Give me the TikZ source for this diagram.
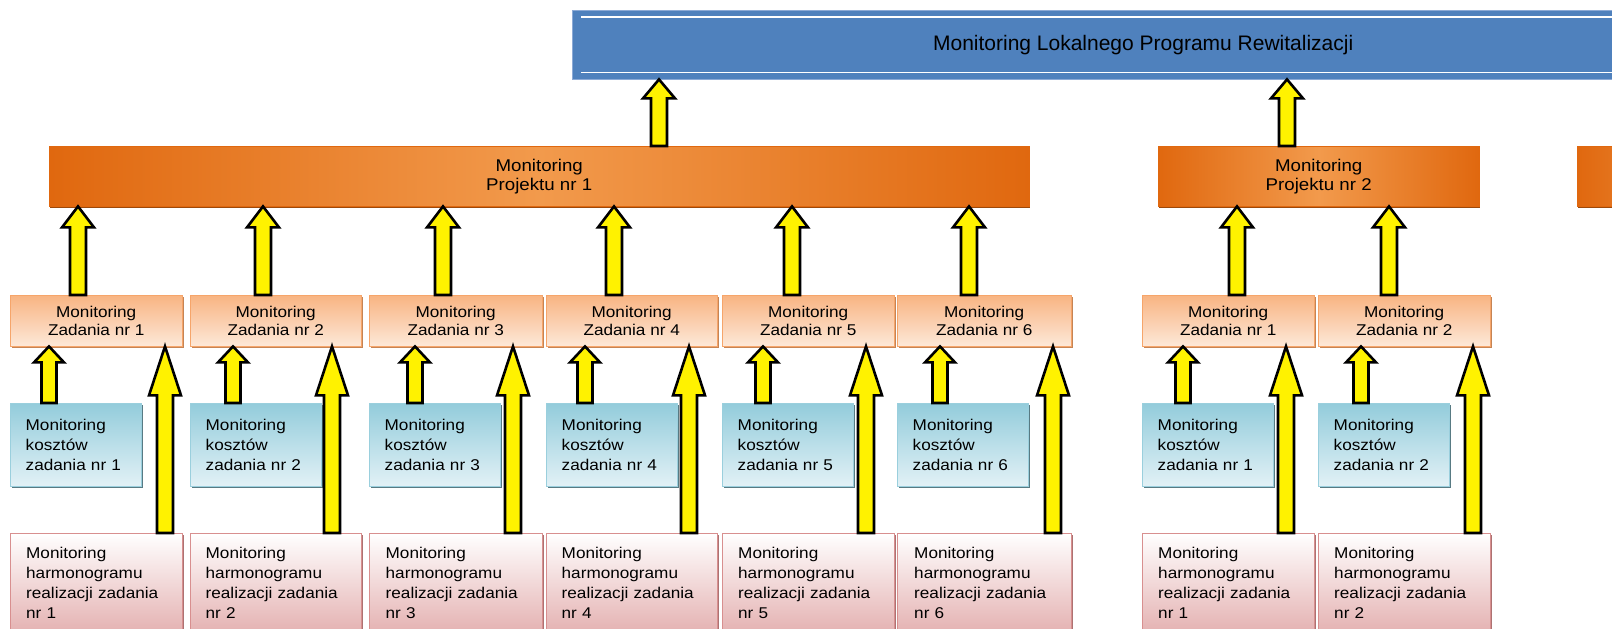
\documentclass[tikz,border=0pt]{standalone}
\usepackage{fontspec}
\setmainfont{Liberation Sans}
\newfontfamily\boxfont[FakeStretch=1.1]{Liberation Sans}
\usetikzlibrary{calc, shadows}

\definecolor{titleblue}{HTML}{4F81BD}
\definecolor{titleedge}{HTML}{8CAAD6}
\definecolor{projdark}{HTML}{E0680F}
\definecolor{projlight}{HTML}{F29A4C}
\definecolor{zadtop}{HTML}{F8B482}
\definecolor{zadbot}{HTML}{FDE8D8}
\definecolor{zadedge}{HTML}{F6A56A}
\definecolor{kosztop}{HTML}{93CCDB}
\definecolor{koszbot}{HTML}{E2F1F6}
\definecolor{koszedge}{HTML}{9ACFDD}
\definecolor{harmbot}{HTML}{E4B1B1}
\definecolor{harmedge}{HTML}{D88F8F}

% block arrow: x, lower anchor, upper anchor, shaft half width, head half width, head length
\newcommand{\blockarrow}[6]{%
  \draw[arrowline] let \p1=(#2), \p2=(#3) in
    ({(#1-#4)*1pt},\y1) -- ({(#1-#4)*1pt},{\y2-#6pt}) -- ({(#1-#5)*1pt},{\y2-#6pt})
    -- ({#1*1pt},\y2) -- ({(#1+#5)*1pt},{\y2-#6pt}) -- ({(#1+#4)*1pt},{\y2-#6pt})
    -- ({(#1+#4)*1pt},\y1) -- cycle;}

\begin{document}
\begin{tikzpicture}[x=1pt, y=1pt,
  titlebox/.style={draw=titleedge, fill=titleblue, anchor=north west, inner sep=0pt,
    minimum height=69pt, font=\fontsize{21}{24}\selectfont},
  projbox/.style={draw=projdark, left color=projdark, right color=projdark, middle color=projlight,
    anchor=north west, inner sep=0pt, minimum height=60pt, align=center,
    font=\boxfont\fontsize{17}{19}\selectfont,
    drop shadow={shadow xshift=1pt, shadow yshift=-2pt, fill=projdark!70!black, opacity=1}},
  zadbox/.style={draw=zadedge, top color=zadtop, bottom color=zadbot, anchor=north west,
    inner sep=0pt, minimum height=51pt, align=center, font=\boxfont\fontsize{15.6}{18}\selectfont,
    drop shadow={shadow xshift=1.5pt, shadow yshift=-1.5pt, fill=zadedge!80!black, opacity=1}},
  koszbox/.style={draw=koszedge, top color=kosztop, bottom color=koszbot, anchor=north west,
    inner xsep=15pt, inner ysep=0pt, text width=100pt, minimum width=131pt, minimum height=83pt,
    align=left, font=\boxfont\fontsize{15.6}{20}\selectfont,
    drop shadow={shadow xshift=1.5pt, shadow yshift=-1.5pt, fill=kosztop!60!black, opacity=1}},
  harmbox/.style={draw=harmedge, top color=white, bottom color=harmbot, anchor=north west,
    inner xsep=15pt, inner ysep=0pt, text width=140pt, minimum height=100pt,
    align=left, font=\boxfont\fontsize{15.6}{20}\selectfont,
    drop shadow={shadow xshift=1.5pt, shadow yshift=-1.5pt, fill=harmedge!80!black, opacity=1}},
  arrowline/.style={draw=black, fill=yellow, line width=2.6pt, line join=miter}]

\useasboundingbox (0,0) rectangle (1612,-629);
\clip (0,0) rectangle (1612,-629);

% Programme
\node[titlebox, minimum width=1142pt] (top) at (572,-10) {Monitoring Lokalnego Programu Rewitalizacji};
\draw[white, line width=1.2pt] ([xshift=9pt, yshift=-7pt]top.north west) -- ([yshift=-7pt]top.north east);
\draw[white, line width=1.2pt] ([xshift=9pt, yshift=7pt]top.south west) -- ([yshift=7pt]top.south east);

% Projects
\node[projbox, minimum width=980pt] (p1) at (49,-146) {Monitoring\\Projektu nr 1};
\node[projbox, minimum width=321pt] (p2) at (1158,-146) {Monitoring\\Projektu nr 2};
\node[projbox, minimum width=320pt] (p3) at (1577,-146) {};

% Tasks of project 1
\node[zadbox, minimum width=172pt] (z1) at (10,-295) {Monitoring\\Zadania nr 1};
\node[zadbox, minimum width=171pt] (z2) at (190,-295) {Monitoring\\Zadania nr 2};
\node[zadbox, minimum width=173pt] (z3) at (369,-295) {Monitoring\\Zadania nr 3};
\node[zadbox, minimum width=171pt] (z4) at (546,-295) {Monitoring\\Zadania nr 4};
\node[zadbox, minimum width=172pt] (z5) at (722,-295) {Monitoring\\Zadania nr 5};
\node[zadbox, minimum width=174pt] (z6) at (897,-295) {Monitoring\\Zadania nr 6};
% Tasks of project 2
\node[zadbox, minimum width=172pt] (zb1) at (1142,-295) {Monitoring\\Zadania nr 1};
\node[zadbox, minimum width=172pt] (zb2) at (1318,-295) {Monitoring\\Zadania nr 2};

% Costs
\node[koszbox] (k1) at (10,-403) {Monitoring\\kosztów\\zadania nr 1};
\node[koszbox] (k2) at (190,-403) {Monitoring\\kosztów\\zadania nr 2};
\node[koszbox] (k3) at (369,-403) {Monitoring\\kosztów\\zadania nr 3};
\node[koszbox] (k4) at (546,-403) {Monitoring\\kosztów\\zadania nr 4};
\node[koszbox] (k5) at (722,-403) {Monitoring\\kosztów\\zadania nr 5};
\node[koszbox] (k6) at (897,-403) {Monitoring\\kosztów\\zadania nr 6};
\node[koszbox] (kb1) at (1142,-403) {Monitoring\\kosztów\\zadania nr 1};
\node[koszbox] (kb2) at (1318,-403) {Monitoring\\kosztów\\zadania nr 2};

% Schedules
\node[harmbox, minimum width=172pt] (h1) at (10,-533) {Monitoring\\harmonogramu\\realizacji zadania\\nr 1};
\node[harmbox, minimum width=171pt] (h2) at (190,-533) {Monitoring\\harmonogramu\\realizacji zadania\\nr 2};
\node[harmbox, minimum width=173pt] (h3) at (369,-533) {Monitoring\\harmonogramu\\realizacji zadania\\nr 3};
\node[harmbox, minimum width=171pt] (h4) at (546,-533) {Monitoring\\harmonogramu\\realizacji zadania\\nr 4};
\node[harmbox, minimum width=172pt] (h5) at (722,-533) {Monitoring\\harmonogramu\\realizacji zadania\\nr 5};
\node[harmbox, minimum width=174pt] (h6) at (897,-533) {Monitoring\\harmonogramu\\realizacji zadania\\nr 6};
\node[harmbox, minimum width=172pt] (hb1) at (1142,-533) {Monitoring\\harmonogramu\\realizacji zadania\\nr 1};
\node[harmbox, minimum width=172pt] (hb2) at (1318,-533) {Monitoring\\harmonogramu\\realizacji zadania\\nr 2};

% Arrows to the programme
\blockarrow{659}{p1.north}{top.south}{8}{16}{19}
\blockarrow{1287}{p2.north}{top.south}{8}{16}{19}

% Arrows to the projects
\blockarrow{78}{z1.north}{p1.south}{8}{16}{21}
\blockarrow{263}{z2.north}{p1.south}{8}{16}{21}
\blockarrow{443}{z3.north}{p1.south}{8}{16}{21}
\blockarrow{614}{z4.north}{p1.south}{8}{16}{21}
\blockarrow{792}{z5.north}{p1.south}{8}{16}{21}
\blockarrow{969}{z6.north}{p1.south}{8}{16}{21}
\blockarrow{1237}{zb1.north}{p2.south}{8}{16}{21}
\blockarrow{1389}{zb2.north}{p2.south}{8}{16}{21}

% Arrows from costs
\blockarrow{49}{k1.north}{z1.south}{7.5}{15}{16}
\blockarrow{233}{k2.north}{z2.south}{7.5}{15}{16}
\blockarrow{415}{k3.north}{z3.south}{7.5}{15}{16}
\blockarrow{585}{k4.north}{z4.south}{7.5}{15}{16}
\blockarrow{763}{k5.north}{z5.south}{7.5}{15}{16}
\blockarrow{940}{k6.north}{z6.south}{7.5}{15}{16}
\blockarrow{1183}{kb1.north}{zb1.south}{7.5}{15}{16}
\blockarrow{1361}{kb2.north}{zb2.south}{7.5}{15}{16}

% Arrows from schedules
\blockarrow{165}{h1.north}{z1.south}{8}{16}{49}
\blockarrow{332}{h2.north}{z2.south}{8}{16}{49}
\blockarrow{513}{h3.north}{z3.south}{8}{16}{49}
\blockarrow{689}{h4.north}{z4.south}{8}{16}{49}
\blockarrow{866}{h5.north}{z5.south}{8}{16}{49}
\blockarrow{1053}{h6.north}{z6.south}{8}{16}{49}
\blockarrow{1286}{hb1.north}{zb1.south}{8}{16}{49}
\blockarrow{1473}{hb2.north}{zb2.south}{8}{16}{49}
\end{tikzpicture}
\end{document}
